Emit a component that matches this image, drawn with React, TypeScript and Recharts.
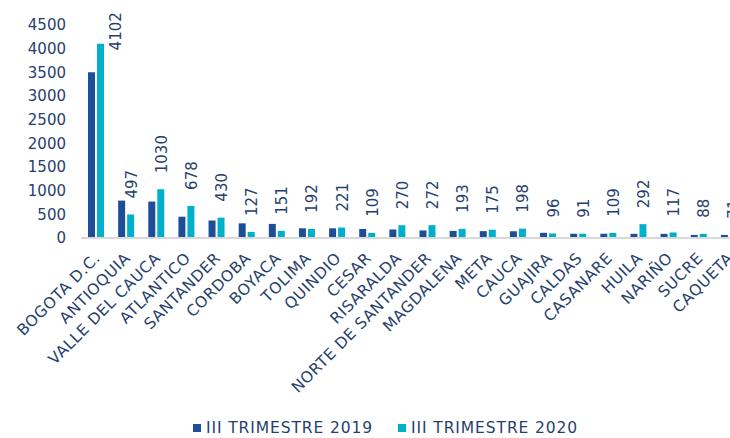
import React from 'react';
import { BarChart, Bar, XAxis, YAxis, LabelList } from 'recharts';

const departments = [
  'BOGOTA D.C.', 'ANTIOQUIA', 'VALLE DEL CAUCA', 'ATLANTICO', 'SANTANDER', 'CORDOBA',
  'BOYACA', 'TOLIMA', 'QUINDIO', 'CESAR', 'RISARALDA', 'NORTE DE SANTANDER',
  'MAGDALENA', 'META', 'CAUCA', 'GUAJIRA', 'CALDAS', 'CASANARE', 'HUILA', 'NARIÑO',
  'SUCRE', 'CAQUETA',
];
const q3_2019 = [3500, 790, 770, 450, 370, 310, 298, 205, 205, 190, 180, 160, 150, 145, 145, 110, 90, 90, 88, 88, 65, 65];
const q3_2020 = [4102, 497, 1030, 678, 430, 127, 151, 192, 221, 109, 270, 272, 193, 175, 198, 96, 91, 109, 292, 117, 88, 71];
const yTicks = [0, 500, 1000, 1500, 2000, 2500, 3000, 3500, 4000, 4500];

const SERIES = [
  { key: 'v2019', name: 'III TRIMESTRE 2019', color: '#1f4e99' },
  { key: 'v2020', name: 'III TRIMESTRE 2020', color: '#00b0cb' },
];
const TEXT = '#263f6e';
const FONT = '"DejaVu Sans", Verdana, sans-serif';

const data = departments.map((d, i) => ({ name: d, v2019: q3_2019[i], v2020: q3_2020[i] }));

const AngledTick = ({ x, y, payload }: any) => (
  <text
    x={x + 5}
    y={y + 21}
    transform={`rotate(-45 ${x + 5} ${y + 21})`}
    textAnchor="end"
    fill={TEXT}
    fontSize={15.5}
    letterSpacing={0.6}
    fontFamily={FONT}
  >
    {payload.value}
  </text>
);

const VerticalLabel = ({ x, y, width, value }: any) => {
  const len = String(value).length * 9.6;
  let cx = x + width / 2 + 1;
  let bottom = y - 16;
  // excel pushes a label that would leave the plot back down and to the side
  if (bottom - len < 12) {
    bottom = 12 + len;
    cx += 15;
  }
  return (
    <text
      x={cx + 5}
      y={bottom}
      transform={`rotate(-90 ${cx + 5} ${bottom})`}
      fill={TEXT}
      fontSize={15}
      fontFamily={FONT}
    >
      {value}
    </text>
  );
};

export default function App() {
  return (
    <div style={{ position: 'absolute', left: 0, top: 0, width: 730, height: 438, overflow: 'hidden', background: '#fff' }}>
      <BarChart
        width={746}
        height={438}
        data={data}
        margin={{ top: 25, right: 2, bottom: 30, left: 0 }}
        barSize={7}
        barGap={2}
      >
        <YAxis
          width={81}
          domain={[0, 4500]}
          ticks={yTicks}
          interval={0}
          axisLine={false}
          tickLine={false}
          tickSize={0}
          tickMargin={15}
          tick={{ fill: TEXT, fontSize: 15, fontFamily: FONT }}
        />
        <XAxis
          dataKey="name"
          interval={0}
          height={170}
          tickLine={false}
          tickSize={0}
          tickMargin={0}
          axisLine={{ stroke: '#d9d9d9', strokeWidth: 2 }}
          tick={<AngledTick />}
        />
        <Bar dataKey="v2019" name={SERIES[0].name} fill={SERIES[0].color} isAnimationActive={false} />
        <Bar dataKey="v2020" name={SERIES[1].name} fill={SERIES[1].color} isAnimationActive={false}>
          <LabelList dataKey="v2020" content={<VerticalLabel />} />
        </Bar>
      </BarChart>
      <div
        style={{
          position: 'absolute', left: 193, top: 419, display: 'flex', gap: 25, lineHeight: '18px',
          fontFamily: FONT, fontSize: 15.5, letterSpacing: 0.9, color: TEXT, whiteSpace: 'nowrap',
        }}
      >
        {SERIES.map((s) => (
          <div key={s.key} style={{ display: 'flex', alignItems: 'center', gap: 5 }}>
            <span style={{ width: 8, height: 8, background: s.color, display: 'inline-block' }} />
            <span>{s.name}</span>
          </div>
        ))}
      </div>
    </div>
  );
}
